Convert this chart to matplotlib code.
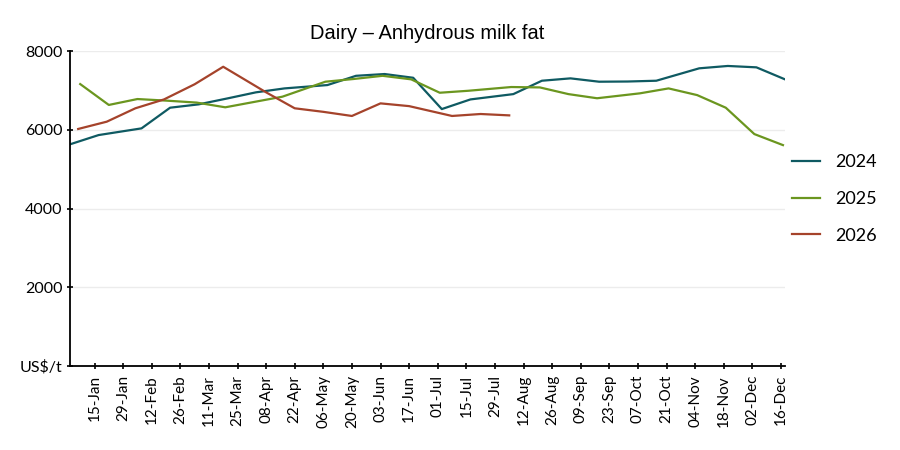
import matplotlib
matplotlib.use("Agg")
import matplotlib.pyplot as plt
import matplotlib.dates as mdates
import pandas as pd

# All series plotted on a common 2024 calendar axis (month-day)
dates_2024 = ["01-03", "01-17", "02-07", "02-21", "03-06", "03-20", "04-03", "04-17",
              "05-08", "05-22", "06-05", "06-19", "07-03", "07-17", "08-07", "08-21",
              "09-04", "09-18", "10-02", "10-16", "11-06", "11-20", "12-04", "12-18"]
values_2024 = [5630, 5865, 6035, 6560, 6645, 6795, 6950, 7050,
               7135, 7370, 7415, 7320, 6525, 6770, 6905, 7245,
               7305, 7220, 7225, 7245, 7560, 7620, 7585, 7280]

dates_2025 = ["01-08", "01-22", "02-05", "02-19", "03-05", "03-19", "04-02", "04-16",
              "05-07", "05-21", "06-04", "06-18", "07-02", "07-16", "08-06", "08-20",
              "09-03", "09-17", "10-08", "10-22", "11-05", "11-19", "12-03", "12-17"]
values_2025 = [7160, 6630, 6780, 6740, 6690, 6570, 6705, 6840,
               7220, 7290, 7370, 7280, 6940, 6990, 7085, 7075,
               6905, 6800, 6925, 7050, 6880, 6560, 5890, 5610]

dates_2026 = ["01-07", "01-21", "02-04", "02-18", "03-04", "03-18", "04-08", "04-22",
              "05-06", "05-20", "06-03", "06-17", "07-08", "07-22", "08-05"]
values_2026 = [6020, 6205, 6545, 6770, 7155, 7600, 6950, 6545,
               6455, 6350, 6670, 6600, 6350, 6400, 6365]

series_labels = ["2024", "2025", "2026"]
series_colors = ["#0f5a62", "#6b961f", "#a5432b"]

tick_start = "2024-01-15"
tick_end = "2024-12-16"
y_ticks = [0, 2000, 4000, 6000, 8000]
y_ticklabels = ["US$/t", "2000", "4000", "6000", "8000"]
title = "Dairy – Anhydrous milk fat"

plt.rcParams['font.family'] = ['Lato', 'DejaVu Sans']

fig = plt.figure(figsize=(9, 4.5), dpi=100)
ax = fig.add_axes([70/900, 1-366/450, (785-70)/900, (366-51)/450])

def to_dt(lst):
    return pd.to_datetime(["2024-" + d for d in lst])

for d, v, lab, c in zip([dates_2024, dates_2025, dates_2026],
                        [values_2024, values_2025, values_2026],
                        series_labels, series_colors):
    ax.plot(to_dt(d), v, color=c, lw=1.6, label=lab, solid_joinstyle='round')

ax.set_xlim(pd.Timestamp("2024-01-03"), pd.Timestamp("2024-12-18"))
ax.set_ylim(0, 8000)
ticks = pd.date_range(tick_start, tick_end, freq="14D")
ax.set_xticks(ticks)
ax.xaxis.set_major_formatter(mdates.DateFormatter("%d-%b"))
plt.setp(ax.get_xticklabels(), rotation=90, fontsize=11)

ax.set_yticks(y_ticks)
ax.set_yticklabels(y_ticklabels, fontsize=11.5)
ax.yaxis.grid(True, color="#ececec", lw=1)
ax.set_axisbelow(True)
ax.tick_params(axis='both', direction='inout', length=5, width=1.2, color='black')
ax.tick_params(axis='x', pad=4)
ax.tick_params(axis='y', pad=3)

for s in ['top', 'right']:
    ax.spines[s].set_visible(False)
for s in ['left', 'bottom']:
    ax.spines[s].set_linewidth(1.3)
    ax.spines[s].set_color('black')

ax.set_title(title, fontsize=14.5, family=['Liberation Sans', 'DejaVu Sans'], pad=9)

leg = ax.legend(loc='center left', bbox_to_anchor=(792/900, 1-199/450),
                bbox_transform=fig.transFigure, frameon=False, fontsize=13,
                handlelength=1.55, handletextpad=0.85, labelspacing=1.15,
                borderpad=0, borderaxespad=0)

fig.savefig("out.png", dpi=100)
